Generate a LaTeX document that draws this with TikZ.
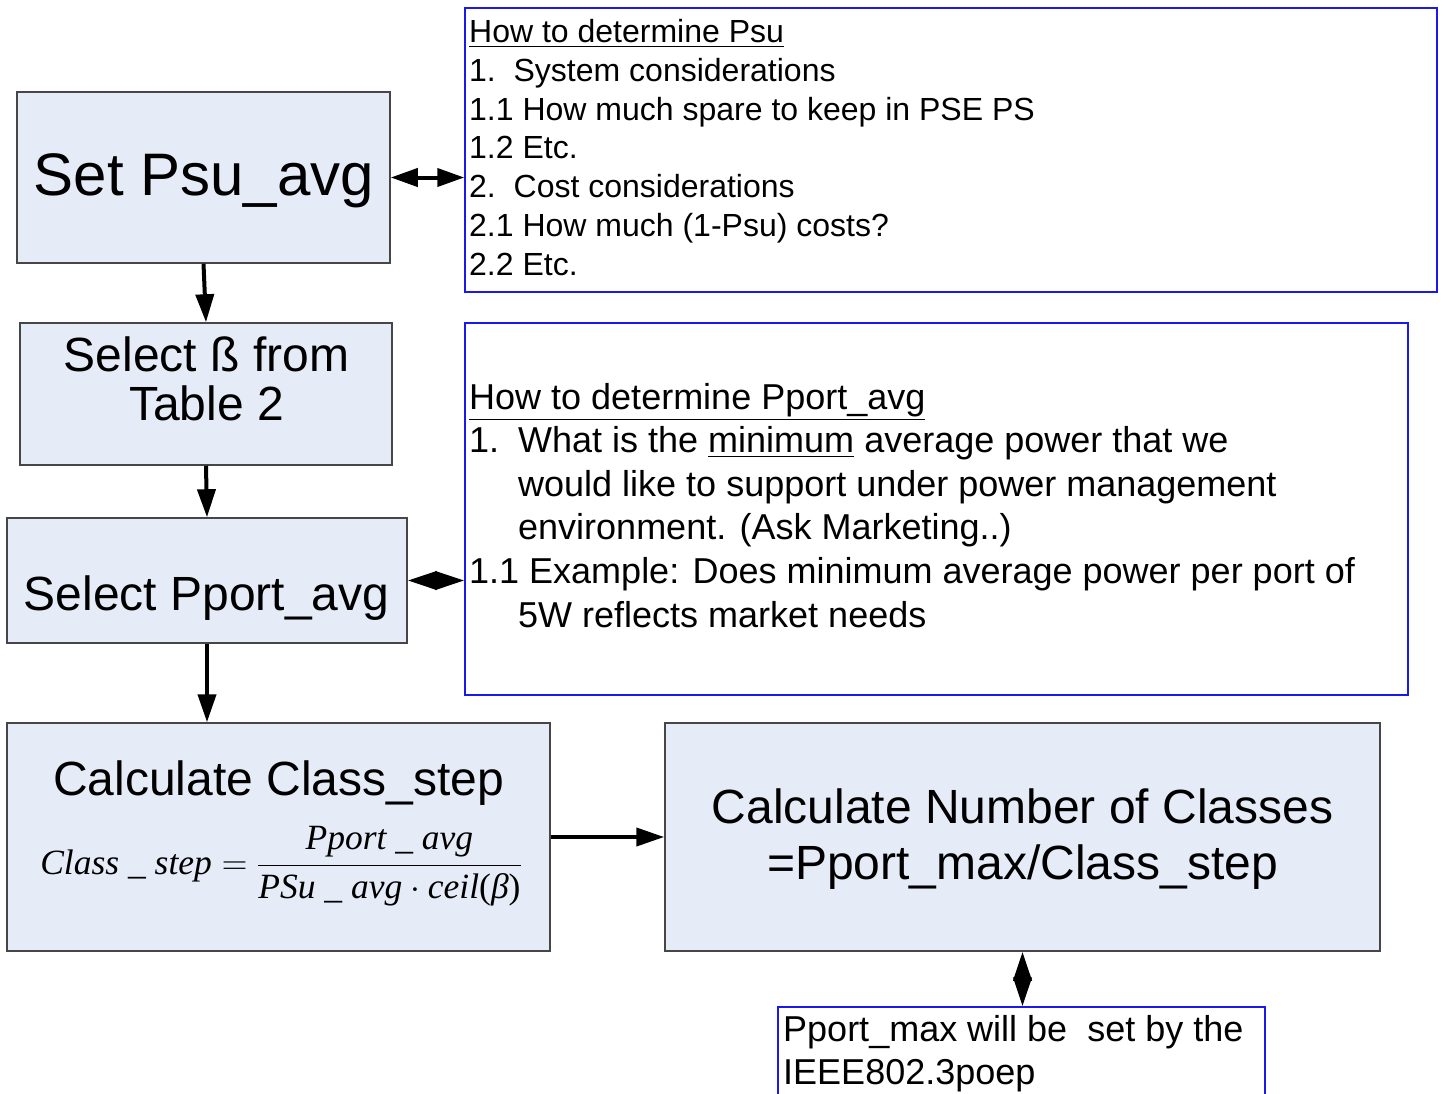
\documentclass[tikz,border=0pt]{standalone}
\usepackage{fix-cm}
\usepackage{amsmath}
\usepackage[no-math]{fontspec}
\setmainfont{Liberation Sans}
\newfontfamily\timesf{Liberation Serif}
\usetikzlibrary{arrows.meta}
\definecolor{boxfill}{RGB}{230,236,247}
\definecolor{boxline}{RGB}{70,70,70}
\definecolor{noteline}{RGB}{25,25,235}
\tikzset{
  stepbox/.style={draw=boxline, fill=boxfill, line width=1.5pt, inner sep=0pt},
  notebox/.style={draw=noteline, line width=1.5pt, inner sep=0pt},
  notetext/.style={anchor=base west, align=left, inner sep=0pt},
  steptext/.style={anchor=base, align=center, inner sep=0pt},
  flow/.style={line width=4pt, -{Triangle[length=28pt,width=18pt]}},
  twoway/.style={line width=4pt, {Triangle[length=27pt,width=18pt]}-{Triangle[length=27pt,width=18pt]}},
  meet/.style={line width=4pt, {Triangle[length=29pt,width=18pt]}-{Triangle[length=29pt,width=18pt]}},
  huge text/.style={font=\fontsize{60}{70}\selectfont},
  large text/.style={font=\fontsize{48}{50}\selectfont},
}
\newcommand{\tit}[1]{\text{\timesf\itshape #1}}
\begin{document}
\begin{tikzpicture}[x=1pt,y=-1pt]
  \useasboundingbox (0,0) rectangle (1445,1093);
  \clip (0,0) rectangle (1445,1093);
  % flow boxes
  \node[stepbox, minimum width=373pt, minimum height=171pt] (psu) at (203.5,177.5) {};
  \node[stepbox, minimum width=372pt, minimum height=142pt] (beta) at (206,394) {};
  \node[stepbox, minimum width=400pt, minimum height=125pt] (pport) at (207,580.5) {};
  \node[stepbox, minimum width=543pt, minimum height=228pt] (clsstep) at (278.5,837) {};
  \node[stepbox, minimum width=715pt, minimum height=228pt] (nclass) at (1022.5,837) {};
  % base anchor of a multi-line text is its last line
  \node[steptext, huge text] (psu-txt) at (204,195) {Set Psu\_avg};
  \node[steptext, font=\fontsize{48}{49}\selectfont] (beta-txt) at (206.5,420) {Select ß from\\Table 2};
  \node[steptext, large text] (pport-txt) at (206.5,610) {Select Pport\_avg};
  \node[steptext, large text] (clsstep-txt) at (278.5,795) {Calculate Class\_step};
  \node[steptext, font=\fontsize{35.5}{40}\selectfont] (clsstep-eq) at (281,874)
    {$\displaystyle \tit{Class \_ step}=\frac{\tit{Pport \_ avg}}{\tit{PSu \_ avg}\cdot\tit{ceil}\text{\timesf(}\tit{β}\text{\timesf)}}$};
  \node[steptext, font=\fontsize{48}{56}\selectfont] (nclass-txt) at (1022.5,879)
    {Calculate Number of Classes\\=Pport\_max/Class\_step};
  % side notes
  \node[notebox, minimum width=972pt, minimum height=284pt] (psunote) at (951,150) {};
  \node[notebox, minimum width=943pt, minimum height=372pt] (pportnote) at (936.5,509) {};
  \node[notebox, minimum width=487pt, minimum height=110pt] (ieeenote) at (1021.5,1062) {};
  \node[notetext, font=\fontsize{32}{38.7}\selectfont] (psunote-txt) at (469,275)
    {\underline{How to determine Psu}\\
     1.\ \ System considerations\\
     1.1 How much spare to keep in PSE PS\\
     1.2 Etc.\\
     2.\ \ Cost considerations\\
     2.1 How much (1-Psu) costs?\\
     2.2 Etc.};
  \node[notetext, font=\fontsize{36}{43.6}\selectfont] (pportnote-txt) at (469,627)
    {\underline{How to determine Pport\_avg}\\
     \makebox[49pt][l]{1.}What is the \underline{minimum} average power that we\\
     \hspace*{49pt}would like to support under power management\\
     \hspace*{49pt}environment. (Ask Marketing..)\\
     1.1 Example: Does minimum average power per port of\\
     \hspace*{49pt}5W reflects market needs};
  \node[notetext, font=\fontsize{36}{43}\selectfont] (ieeenote-txt) at (783,1084)
    {Pport\_max will be\ \ set by the\\IEEE802.3poep};
  % connectors
  \draw[flow] (psu.south) -- (beta.north);
  \draw[flow] (beta.south) -- (pport.north);
  \draw[flow] (pport.south) -- (pport.south |- clsstep.north);
  \draw[flow] (clsstep.east) -- (nclass.west);
  \draw[twoway] (psu.east) -- (psu.east -| psunote.west);
  \draw[meet] (pport.east) -- (pport.east -| pportnote.west);
  \draw[meet] (nclass.south) -- (nclass.south |- ieeenote.north);
\end{tikzpicture}
\end{document}
